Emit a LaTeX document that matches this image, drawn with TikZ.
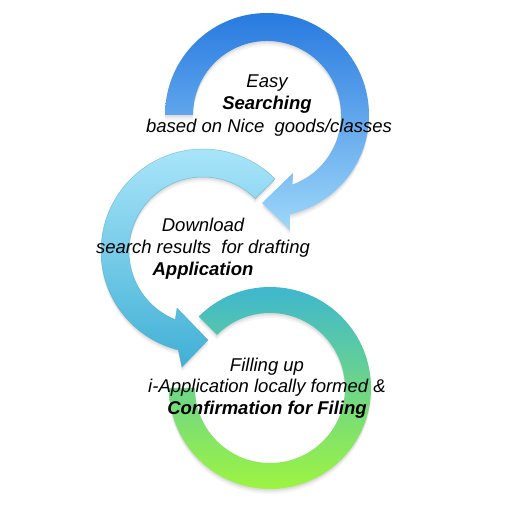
\documentclass[tikz,border=0pt]{standalone}
\usepackage{fontspec}
\setmainfont{Liberation Sans}

% gradient colours of the three circular arrows
\definecolor{topA}{RGB}{40,122,224}
\definecolor{topB}{RGB}{158,215,249}
\definecolor{midA}{RGB}{174,231,251}
\definecolor{midB}{RGB}{64,176,213}
\definecolor{midEdge}{RGB}{78,168,202}
\definecolor{grnA}{RGB}{58,180,214}
\definecolor{grnB}{RGB}{162,247,58}

% outlines of the three arrow bodies (options are passed to \path)
\newcommand\ShapeSearch[1]{%
  \path[#1] (165,397) arc[start angle=180, end angle=-77, radius=102]
    -- (290,282) -- (262,309) -- (293,339)
    -- ([shift={(-70:74)}]267,397) arc[start angle=-70, end angle=180, radius=74]
    -- cycle;}
\newcommand\ShapeDownload[1]{%
  \path[#1] ([shift={(45:102)}]203,261) arc[start angle=45, end angle=256, radius=102]
    -- (182,145) -- (208,172) -- (177,204)
    -- ([shift={(248:74)}]203,261) arc[start angle=248, end angle=45, radius=74]
    -- cycle;}
\newcommand\ShapeFiling[1]{%
  \path[#1] ([shift={(135:101)}]270,124) arc[start angle=135, end angle=-180, radius=101]
    -- ([shift={(180:75)}]270,124) arc[start angle=-180, end angle=135, radius=75]
    -- cycle;}
% soft shadow built from a few faint offset copies
\newcommand\SoftShadow[1]{%
  #1{fill=black, fill opacity=0.05, yshift=-1.5pt}%
  #1{fill=black, fill opacity=0.05, yshift=-3pt}%
  #1{fill=black, fill opacity=0.04, yshift=-5pt}}

\tikzset{
  lbl/.style={anchor=base, inner sep=0pt, font=\fontsize{18.5}{22}\selectfont\itshape},
  lblbold/.style={lbl, font=\fontsize{18.5}{22}\selectfont\itshape\bfseries},
}

\begin{document}
\begin{tikzpicture}[x=1pt,y=1pt]
  \useasboundingbox (0,0) rectangle (512,512);
  \fill[white] (0,0) rectangle (512,512);

  % third step: nearly closed ring
  \SoftShadow\ShapeFiling
  \ShapeFiling{top color=grnA, bottom color=grnB}

  % second step: arrow turning anticlockwise
  \SoftShadow\ShapeDownload
  \ShapeDownload{top color=midA, bottom color=midB, draw=midEdge, draw opacity=0.6, line width=0.5pt}

  % first step: arrow turning clockwise
  \SoftShadow\ShapeSearch
  \ShapeSearch{top color=topA, bottom color=topB}

  % step texts
  \node[lbl]     (s1) at (267,424) {Easy};
  \node[lblbold] (s2) at (267,402) {Searching};
  \node[lbl]     (s3) at (269,379) {based on Nice\ \ goods/classes};

  \node[lbl]     (d1) at (203,280) {Download};
  \node[lbl]     (d2) at (203,258) {search results\ \ for drafting};
  \node[lblbold] (d3) at (203,236) {Application};

  \node[lbl]     (f1) at (267,140) {Filling up};
  \node[lbl]     (f2) at (267,119) {i-Application locally formed \&};
  \node[lblbold] (f3) at (267,97)  {Confirmation for Filing};
\end{tikzpicture}
\end{document}
